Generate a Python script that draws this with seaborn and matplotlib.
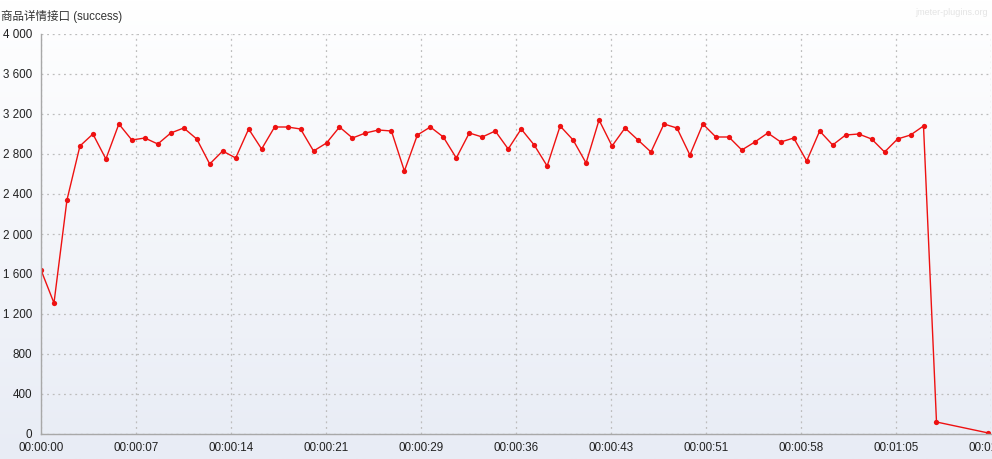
import numpy as np
import pandas as pd
import matplotlib
matplotlib.use("Agg")
import matplotlib.pyplot as plt
import seaborn as sns
from matplotlib.ticker import FuncFormatter, MultipleLocator

# ---- data ----
title_text = "商品详情接口 (success)"
seconds = list(range(0, 70)) + [73]
values = [1640, 1310, 2340, 2880, 3000, 2750, 3100, 2940, 2960, 2900,
          3010, 3060, 2950, 2700, 2830, 2760, 3050, 2850, 3070, 3070,
          3050, 2830, 2910, 3070, 2960, 3010, 3040, 3030, 2630, 2990,
          3070, 2970, 2760, 3010, 2970, 3030, 2850, 3050, 2890, 2680,
          3080, 2940, 2710, 3140, 2880, 3060, 2940, 2820, 3100, 3060,
          2790, 3100, 2970, 2970, 2840, 2920, 3010, 2920, 2960, 2730,
          3030, 2890, 2990, 3000, 2950, 2820, 2950, 2990, 3080, 120,
          10]
x_max = 73.2
x_step = 7.32
y_max = 4000
y_step = 400

df = pd.DataFrame({"t": seconds, "v": values})

sns.set_style("white")
fam = ["Liberation Sans", "Noto Sans CJK SC", "DejaVu Sans"]
plt.rcParams["font.family"] = fam

fig = plt.figure(figsize=(9.92, 4.59), dpi=100)

# background gradient
bg = fig.add_axes([0, 0, 1, 1], zorder=-10)
grad = np.linspace(0, 1, 256).reshape(-1, 1)
top = np.array([1.0, 1.0, 1.0])
bot = np.array([232, 236, 245]) / 255.0
img = top + (bot - top) * grad
img = np.repeat(img[:, None, :], 2, axis=1)
bg.imshow(img, aspect="auto", extent=[0, 1, 0, 1], origin="upper")
bg.axis("off")

ax = fig.add_axes([41 / 992, 1 - 434 / 459, 950 / 992, 400 / 459])
ax.set_facecolor("none")

sns.lineplot(data=df, x="t", y="v", ax=ax, color="#ee1111", linewidth=1.0,
             marker="o", markersize=3.8, markeredgewidth=0, sort=True)

ax.set_xlim(0, x_max)
ax.set_ylim(0, y_max)
ax.xaxis.set_major_locator(MultipleLocator(x_step))
ax.yaxis.set_major_locator(MultipleLocator(y_step))


def fmt_time(x, pos):
    s = int(np.floor(x + 1e-6))
    return f"{s // 3600:02d}:{(s % 3600) // 60:02d}:{s % 60:02d}"


def fmt_num(y, pos):
    return f"{int(round(y)):,}".replace(",", " ")


ax.xaxis.set_major_formatter(FuncFormatter(fmt_time))
ax.yaxis.set_major_formatter(FuncFormatter(fmt_num))

ax.grid(True, color="#bdbdbd", linestyle=(0, (1.5, 3)), linewidth=0.9)
for s in ["top", "right"]:
    ax.spines[s].set_visible(False)
for s in ["left", "bottom"]:
    ax.spines[s].set_color("#a8a8a8")
    ax.spines[s].set_linewidth(1.0)

ax.tick_params(axis="both", which="major", labelsize=8.4, colors="#a8a8a8",
               labelcolor="#222222", length=3.5, width=1.0, pad=3, direction="out")
ax.tick_params(axis="x", pad=2)
ax.set_xlabel("")
ax.set_ylabel("")

fig.text(1 / 992, 1 - 20 / 459, title_text, fontsize=8.3, color="#333333",
         ha="left", va="baseline", family=fam)
fig.text(988 / 992, 1 - 15 / 459, "jmeter-plugins.org", fontsize=6.5,
         color="#e4e4e4", ha="right", va="baseline", family=fam)

fig.savefig("out.png", dpi=100)
